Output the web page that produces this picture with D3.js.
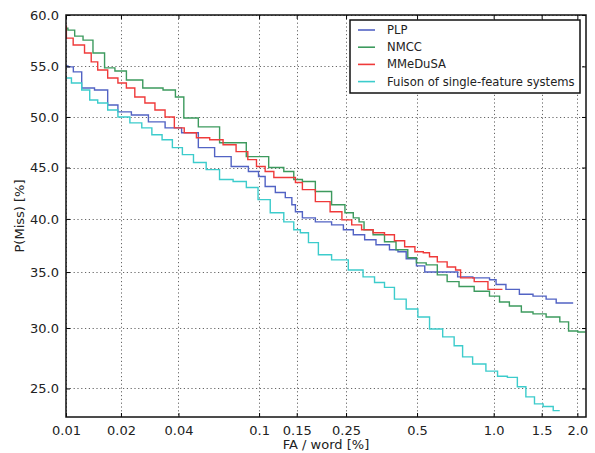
<!DOCTYPE html>
<html>
<head>
<meta charset="utf-8">
<script src="https://cdn.jsdelivr.net/npm/d3@7"></script>
<style>
  html, body { margin: 0; padding: 0; background: #fff; }
  svg { display: block; font-family: "DejaVu Sans", sans-serif; }
</style>
</head>
<body>
<svg id="chart" width="595" height="453"></svg>
<script>
// ---- data (FA % , P(Miss) %) ----
const seriesNames = ["PLP", "NMCC", "MMeDuSA", "Fuison of single-feature systems"];
const seriesColors = ["#5263c4", "#3d9a5e", "#ef3a3a", "#3ccccc"];

const plpFA = [0.01,0.0105,0.0115,0.0130,0.0159,0.0181,0.0205,0.0252,0.031,0.0376,0.0458,0.0555,0.0666,0.0807,0.0978,0.101,0.113,0.126,0.140,0.145,0.151,0.168,0.198,0.235,0.252,0.287,0.316,0.359,0.411,0.423,0.481,0.514,0.562,0.717,0.737,0.939,0.991,1.052,1.174,1.322,1.475,1.641,1.738,1.935];
const plpMiss = [55.05,54.95,54.46,52.87,52.67,51.19,50.5,50.2,49.51,48.92,48.43,46.96,46.08,45.1,44.61,44.12,43.14,42.55,42.06,41.37,40.69,40.1,39.72,39.43,38.96,38.49,38.02,37.55,37.08,36.89,36.23,35.57,35.0,35.0,34.56,34.47,34.3,33.86,33.42,32.98,32.81,32.54,32.19,32.19];

const nmccFA = [0.01,0.0105,0.0119,0.0130,0.0153,0.0174,0.0198,0.0231,0.0295,0.0376,0.0396,0.0458,0.0555,0.0745,0.101,0.122,0.140,0.151,0.168,0.198,0.235,0.260,0.278,0.292,0.307,0.349,0.384,0.436,0.481,0.514,0.577,0.632,0.691,0.784,0.906,1.026,1.079,1.214,1.322,1.475,1.641,1.842,1.889,2.13];
const nmccMiss = [58.74,58.54,57.96,57.57,56.31,54.85,54.55,53.66,52.87,52.67,51.98,49.9,49.02,47.45,46.08,45.0,44.61,43.82,43.63,42.65,41.37,40.59,40.1,39.72,38.96,38.49,37.83,37.08,36.32,35.85,35.66,34.74,34.12,33.68,33.25,32.81,32.28,31.93,31.4,31.23,30.96,30.53,29.75,29.66];

const mmeFA = [0.01,0.0101,0.0119,0.0135,0.0141,0.0159,0.0181,0.0205,0.0223,0.0252,0.0285,0.0321,0.0363,0.04,0.0458,0.0531,0.0622,0.072,0.0834,0.0935,0.101,0.113,0.122,0.145,0.151,0.168,0.198,0.228,0.252,0.278,0.307,0.349,0.384,0.423,0.467,0.514,0.547,0.577,0.632,0.691,0.737,0.756,0.939,0.964,1.079];
const mmeMiss = [58.93,57.77,57.09,56.31,55.44,54.65,53.86,53.37,52.87,51.98,51.39,50.69,50.0,48.92,48.43,47.94,47.75,47.25,46.57,45.78,45.1,44.61,44.02,44.02,43.53,42.84,41.67,40.69,39.91,39.43,38.96,38.68,38.49,37.92,37.36,36.89,36.79,36.42,35.94,35.47,35.19,34.47,34.12,33.42,33.42];

const fusFA = [0.01,0.0115,0.0130,0.0141,0.0159,0.0181,0.0205,0.0243,0.0274,0.031,0.035,0.0396,0.0443,0.0513,0.0594,0.0696,0.0807,0.0935,0.1045,0.122,0.140,0.151,0.161,0.179,0.198,0.235,0.278,0.316,0.349,0.384,0.423,0.481,0.528,0.598,0.673,0.737,0.784,0.881,0.991,1.079,1.174,1.278,1.355,1.475,1.563,1.738];
const fusMiss = [53.86,53.37,52.67,51.68,51.39,50.69,50.0,49.41,48.92,48.24,47.75,46.96,46.27,45.49,44.8,43.82,43.63,43.04,41.86,40.59,39.72,38.96,38.68,37.74,36.6,36.13,35.19,34.56,34.04,33.6,32.54,31.67,30.96,29.92,29.24,28.49,27.56,26.97,26.39,25.97,25.88,25.13,24.34,23.8,23.6,23.28];

const xTickValues = [0.01, 0.02, 0.04, 0.1, 0.15, 0.25, 0.5, 1.0, 1.5, 2.0];
const xTickLabels = ["0.01", "0.02", "0.04", "0.1", "0.15", "0.25", "0.5", "1.0", "1.5", "2.0"];
const yTickValues = [25, 30, 35, 40, 45, 50, 55, 60];
const yTickLabels = ["25.0", "30.0", "35.0", "40.0", "45.0", "50.0", "55.0", "60.0"];
const xDomain = [0.01, 2.14];
const yDomain = [22.8, 60];

// ---- probit (inverse normal CDF, Acklam) ----
function probit(p) {
  const a = [-3.969683028665376e+01, 2.209460984245205e+02, -2.759285104469687e+02, 1.383577518672690e+02, -3.066479806614716e+01, 2.506628277459239e+00];
  const b = [-5.447609879822406e+01, 1.615858368580409e+02, -1.556989798598866e+02, 6.680131188771972e+01, -1.328068155288572e+01];
  const c = [-7.784894002430293e-03, -3.223964580411365e-01, -2.400758277161838e+00, -2.549732539343734e+00, 4.374664141464968e+00, 2.938163982698783e+00];
  const d = [7.784695709041462e-03, 3.224671290700398e-01, 2.445134137142996e+00, 3.754408661907416e+00];
  const pl = 0.02425, ph = 1 - pl;
  let q, r;
  if (p < pl) {
    q = Math.sqrt(-2 * Math.log(p));
    return (((((c[0]*q+c[1])*q+c[2])*q+c[3])*q+c[4])*q+c[5]) / ((((d[0]*q+d[1])*q+d[2])*q+d[3])*q+1);
  } else if (p <= ph) {
    q = p - 0.5; r = q * q;
    return (((((a[0]*r+a[1])*r+a[2])*r+a[3])*r+a[4])*r+a[5])*q / (((((b[0]*r+b[1])*r+b[2])*r+b[3])*r+b[4])*r+1);
  } else {
    q = Math.sqrt(-2 * Math.log(1 - p));
    return -(((((c[0]*q+c[1])*q+c[2])*q+c[3])*q+c[4])*q+c[5]) / ((((d[0]*q+d[1])*q+d[2])*q+d[3])*q+1);
  }
}
const pz = v => probit(v / 100);

// ---- layout ----
const svg = d3.select("#chart");
const L = 66, R = 586, T = 15, B = 417;

const x = d3.scaleLinear().domain(xDomain.map(pz)).range([L, R]);
const y = d3.scaleLinear().domain(yDomain.map(pz)).range([B, T]);

// grid
const grid = svg.append("g").attr("stroke", "#333").attr("stroke-width", 1)
  .attr("stroke-dasharray", "1.2,2.6").attr("opacity", 0.75);
xTickValues.forEach(v => {
  const px = Math.round(x(pz(v))) + 0.5;
  grid.append("line").attr("x1", px).attr("x2", px).attr("y1", T).attr("y2", B);
});
yTickValues.forEach(v => {
  const py = Math.round(y(pz(v))) + 0.5;
  grid.append("line").attr("x1", L).attr("x2", R).attr("y1", py).attr("y2", py);
});

// series
const series = [
  [plpFA, plpMiss],
  [nmccFA, nmccMiss],
  [mmeFA, mmeMiss],
  [fusFA, fusMiss]
];
const line = d3.line().curve(d3.curveStep).x(d => x(pz(d[0]))).y(d => y(pz(d[1])));
const clip = svg.append("clipPath").attr("id", "clip")
  .append("rect").attr("x", L).attr("y", T).attr("width", R - L).attr("height", B - T);
const plotG = svg.append("g").attr("clip-path", "url(#clip)");
series.forEach((s, i) => {
  const pts = s[0].map((f, j) => [f, s[1][j]]);
  plotG.append("path").datum(pts)
    .attr("fill", "none")
    .attr("stroke", seriesColors[i])
    .attr("stroke-width", 1.4)
    .attr("stroke-linejoin", "miter")
    .attr("d", line);
});

// axes
const fmtX = v => xTickLabels[xTickValues.findIndex(t => Math.abs(pz(t) - v) < 1e-9)];
const fmtY = v => yTickLabels[yTickValues.findIndex(t => Math.abs(pz(t) - v) < 1e-9)];

const xAxis = d3.axisBottom(x).tickValues(xTickValues.map(pz)).tickFormat(fmtX)
  .tickSizeInner(-4).tickSizeOuter(0).tickPadding(9);
const yAxis = d3.axisLeft(y).tickValues(yTickValues.map(pz)).tickFormat(fmtY)
  .tickSizeInner(-4).tickSizeOuter(0).tickPadding(7);
const xTop = d3.axisTop(x).tickValues(xTickValues.map(pz)).tickFormat("").tickSizeInner(-4).tickSizeOuter(0);
const yRight = d3.axisRight(y).tickValues(yTickValues.map(pz)).tickFormat("").tickSizeInner(-4).tickSizeOuter(0);

function styleAxis(g) {
  g.select(".domain").remove();
  g.selectAll(".tick line").attr("stroke", "#000").attr("stroke-width", 1);
  g.selectAll(".tick text").attr("fill", "#222").attr("font-size", 13)
    .attr("font-family", "DejaVu Sans, sans-serif");
}
svg.append("g").attr("transform", `translate(0,${B})`).call(xAxis).call(styleAxis);
svg.append("g").attr("transform", `translate(${L},0)`).call(yAxis).call(styleAxis);
svg.append("g").attr("transform", `translate(0,${T})`).call(xTop).call(styleAxis);
svg.append("g").attr("transform", `translate(${R},0)`).call(yRight).call(styleAxis);

// frame
svg.append("rect").attr("x", L).attr("y", T).attr("width", R - L).attr("height", B - T)
  .attr("fill", "none").attr("stroke", "#111").attr("stroke-width", 1.5);

// axis labels
svg.append("text").attr("x", (L + R) / 2).attr("y", 449).attr("text-anchor", "middle")
  .attr("font-size", 13).attr("fill", "#222").text("FA / word [%]");
svg.append("text").attr("transform", `translate(24,${(T + B) / 2}) rotate(-90)`)
  .attr("text-anchor", "middle").attr("font-size", 13).attr("fill", "#222").text("P(Miss) [%]");

// legend
const lg = svg.append("g");
lg.append("rect").attr("x", 350).attr("y", 20).attr("width", 230).attr("height", 73)
  .attr("fill", "#fff").attr("stroke", "#111").attr("stroke-width", 1.5);
seriesNames.forEach((n, i) => {
  const yy = 30 + i * 17.2;
  lg.append("line").attr("x1", 358).attr("x2", 375).attr("y1", yy).attr("y2", yy)
    .attr("stroke", seriesColors[i]).attr("stroke-width", 1.6);
  lg.append("text").attr("x", 387).attr("y", yy + 4).attr("font-size", 11.6)
    .attr("fill", "#222").text(n);
});
</script>
</body>
</html>
